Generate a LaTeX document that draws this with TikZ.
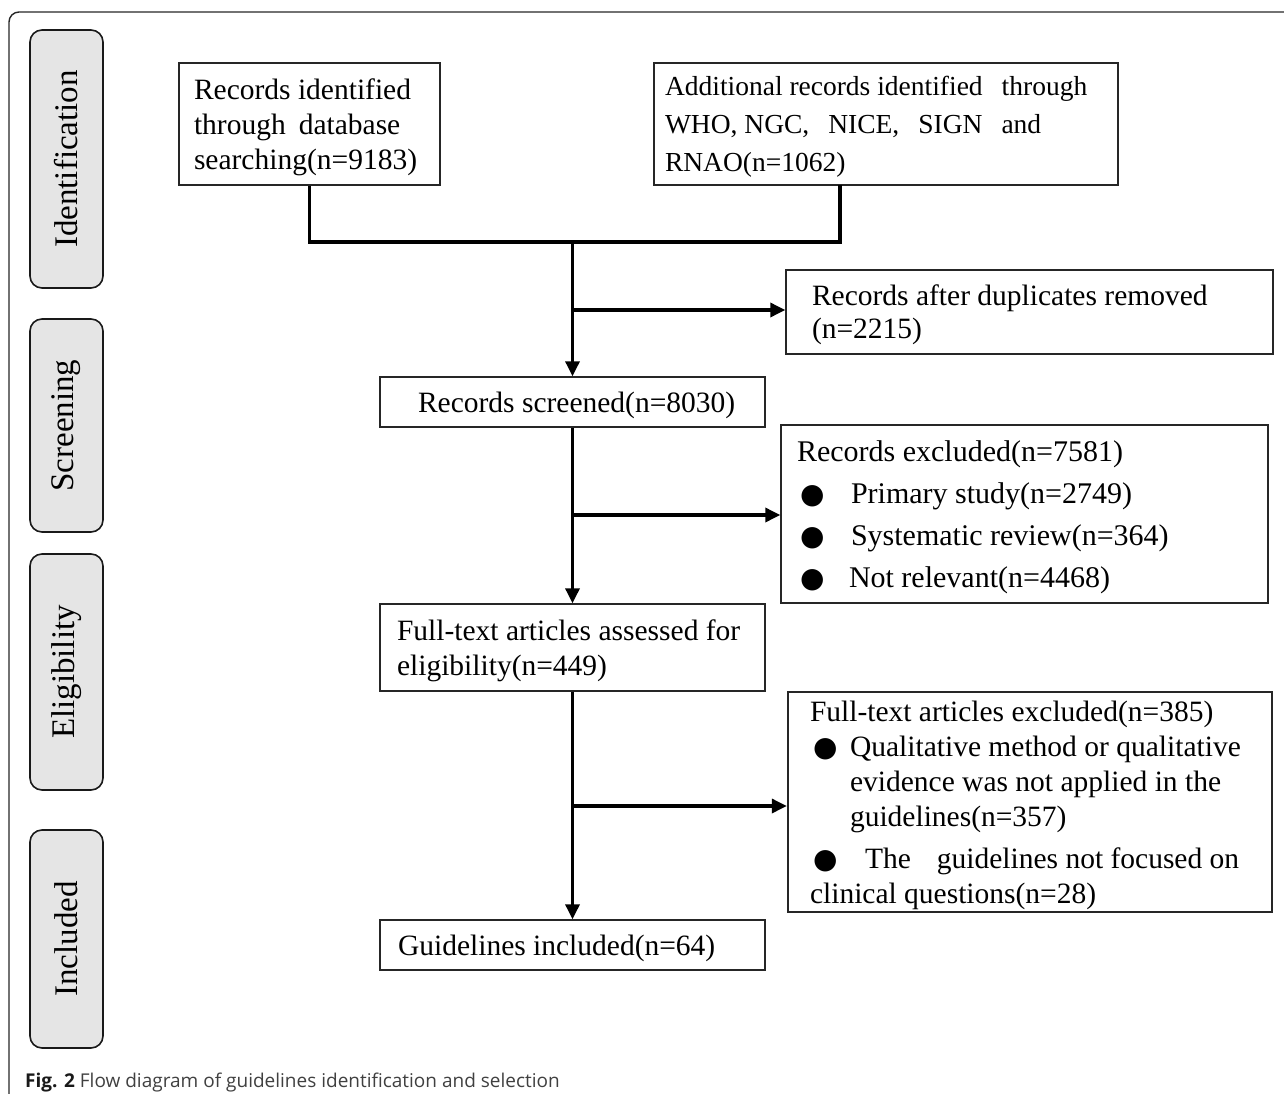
\documentclass[tikz,border=0pt]{standalone}
\usepackage{fontspec}
\setmainfont{Liberation Serif}
\newfontfamily\capfont{Open Sans}
\newfontfamily\dejavu{DejaVu Sans}
\usetikzlibrary{arrows.meta}
\newcommand\blt{{\dejavu\fontsize{28}{28}\selectfont ●}}
% padded left-aligned text block: #1 left pad, #2 box width, #3 text
\newcommand\bxt[3]{\parbox{#2}{\vspace*{6pt}\raggedright\leftskip=#1\relax #3}}
\begin{document}
\begin{tikzpicture}[x=1pt,y=-1pt,
  box/.style={draw=black!85, line width=1.4pt, inner sep=0pt,
    font=\fontsize{29.5}{35}\selectfont},
  side/.style={draw=black!90, line width=1.6pt, fill=black!10, rounded corners=12pt, rotate=90,
    minimum height=73pt, inner sep=0pt, font=\fontsize{33}{33}\selectfont},
  conn/.style={line width=3.3pt, black},
  arr/.style={conn, -{Triangle[length=15pt,width=14pt]}}]
\useasboundingbox (0,0) rectangle (1284,1094);
\draw[line width=1.4pt, black!85, rounded corners=10pt] (9,1100) -- (9,12) -- (1290,12);

% phase labels
\node[side, minimum width=258pt] (sid) at (66.5,159) {Identification};
\node[side, minimum width=213pt] (sscr) at (66.5,425.5) {Screening};
\node[side, minimum width=236pt] (selg) at (66.5,672) {Eligibility};
\node[side, minimum width=218pt] (sinc) at (66.5,939) {Included};

% boxes
\node[box, minimum width=261pt, minimum height=122pt] (b1) at (309.5,124)
  {\bxt{15pt}{261pt}{Records identified\\through\hspace{13pt}database\\searching(n=9183)}};
\node[box, minimum width=464pt, minimum height=122pt, font=\fontsize{27.5}{38}\selectfont] (b2) at (886,124)
  {\bxt{11pt}{464pt}{Additional records identified\hspace{19pt}through\\WHO, NGC,\hspace{19pt}NICE,\hspace{19pt}SIGN\hspace{19pt}and\\RNAO(n=1062)}};
\node[box, minimum width=487pt, minimum height=84pt, font=\fontsize{29.5}{33}\selectfont] (dup) at (1029.5,312)
  {\bxt{26pt}{487pt}{Records after duplicates removed\\(n=2215)}};
\node[box, minimum width=385pt, minimum height=50pt] (scr) at (572.5,402)
  {\bxt{38pt}{385pt}{Records screened(n=8030)}};
\node[box, minimum width=487pt, minimum height=178pt, font=\fontsize{30}{42}\selectfont] (exc) at (1024.5,514)
  {\bxt{16pt}{487pt}{Records excluded(n=7581)\\
   \hspace*{3pt}\makebox[51pt][l]{\blt}Primary study(n=2749)\\
   \hspace*{3pt}\makebox[51pt][l]{\blt}Systematic review(n=364)\\
   \hspace*{3pt}\makebox[49pt][l]{\blt}Not relevant(n=4468)}};
\node[box, minimum width=385pt, minimum height=87pt] (fta) at (572.5,647.5)
  {\bxt{17pt}{385pt}{Full-text articles assessed for\\eligibility(n=449)}};
\node[box, minimum width=484pt, minimum height=220pt, line width=2.4pt] (ftx) at (1030,802)
  {\bxt{22pt}{484pt}{Full-text articles excluded(n=385)\\
   \hspace*{3pt}\makebox[37pt][l]{\blt}Qualitative method or qualitative\\
   \hspace*{40pt}evidence was not applied in the\\
   \hspace*{40pt}guidelines(n=357)\\[7pt]
   \hspace*{3pt}\makebox[52pt][l]{\blt}The\hspace{26pt}guidelines not focused on\\
   clinical questions(n=28)}};
\node[box, minimum width=385pt, minimum height=50pt] (gi) at (572.5,945)
  {\bxt{18pt}{385pt}{Guidelines included(n=64)}};

% connectors
\coordinate (b2s) at (840,185);
\coordinate (j0) at (572.5,242);
\draw[conn] (b1.south) |- (j0) -| (b2s);
\draw[arr] (j0) -- (scr.north);
\coordinate (k1) at (572.5,310);
\draw[arr] (k1) -- (k1 -| dup.west);
\draw[arr] (scr.south) -- (fta.north);
\coordinate (k2) at (572.5,515);
\draw[arr] (k2) -- (k2 -| exc.west);
\draw[arr] (fta.south) -- (gi.north);
\coordinate (k3) at (572.5,806);
\draw[arr] (k3) -- (k3 -| ftx.west);

% caption
\node[anchor=base west, inner sep=0pt, font=\capfont\fontsize{19}{19}\selectfont, text=black!75] (cap) at (25,1087)
  {{\bfseries\color{black!90}Fig. 2} Flow diagram of guidelines identification and selection};
\end{tikzpicture}
\end{document}
